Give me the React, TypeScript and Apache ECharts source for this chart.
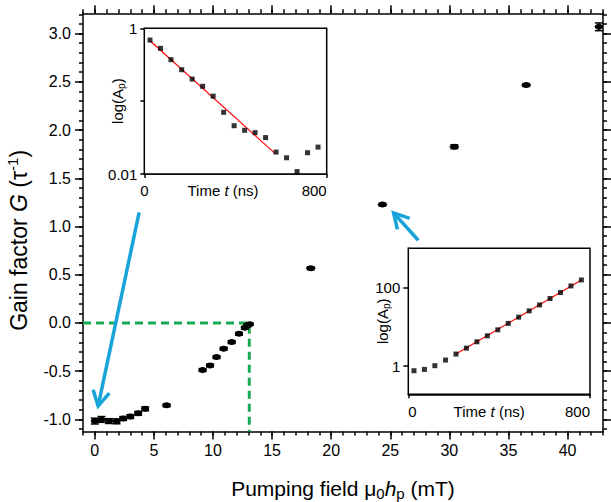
import React, { useEffect, useRef } from "react";
import * as echarts from "echarts";

// ---------- main panel data ----------
const fieldX = [0, 0.57, 1.2, 1.84, 2.4, 3.0, 3.67, 4.26, 6.07, 9.12, 9.75, 10.3, 10.9, 11.58, 12.2, 12.7, 12.9, 13.1, 18.27, 24.34, 30.42, 36.5, 42.65];
const gainG = [-1.017, -1.0, -1.017, -1.02, -0.99, -0.97, -0.937, -0.89, -0.854, -0.488, -0.44, -0.354, -0.267, -0.198, -0.112, -0.05, -0.026, -0.012, 0.567, 1.227, 1.827, 2.466, 3.07];
const fieldErr = [0.3, 0.3, 0.3, 0.3, 0.3, 0.3, 0.3, 0.3, 0.35, 0.35, 0.35, 0.35, 0.35, 0.35, 0.35, 0.35, 0.35, 0.35, 0.4, 0.4, 0.4, 0.4, 0.35];
const gainErr = [0.03, 0.03, 0.025, 0.025, 0.02, 0.02, 0.02, 0.02, 0.015, 0.015, 0.015, 0.015, 0.015, 0.015, 0.015, 0.015, 0.015, 0.015, 0.015, 0.015, 0.02, 0.015, 0.04];
const xMajorTicks = [0, 5, 10, 15, 20, 25, 30, 35, 40];
const yMajorTicks = [-1, -0.5, 0, 0.5, 1, 1.5, 2, 2.5, 3];
const thresholdField = 13.07;
// arrows: [fromX, fromY, toX, toY]
const arrowsData = [
  [3.75, 1.147, 0.28, -0.861],
  [27.37, 0.857, 25.28, 1.141],
];

// ---------- insets ----------
const timesNs = [25, 71, 117, 164, 210, 256, 302, 348, 394, 440, 486, 532, 578, 624, 670, 716, 762];
const decayAmp = [0.69, 0.531, 0.371, 0.27, 0.201, 0.16, 0.117, 0.0703, 0.046, 0.0398, 0.0369, 0.0316, 0.02, 0.0167, 0.0108, 0.0196, 0.0234];
const growAmp = [0.76, 0.82, 1.02, 1.42, 2.02, 2.86, 4.15, 5.89, 8.38, 12.2, 17.6, 25.4, 36.1, 52.5, 74.6, 110, 156];
const decayFit = [[25, 0.676], [573, 0.0192]];
const growFit = [[210, 2.02], [762, 156]];
const decayTicks = [-2, -1, 0];
const decayLabels = [-2, 0];
const growTicks = [0, 2];
const timeTicks = [0, 800];

const X_MIN = -1, X_MAX = 43, Y_MIN = -1.125, Y_MAX = 3.21;
const FONT = "'Liberation Sans', Arial, sans-serif";
const BLACK = "#000";
const GREEN = "#1aaa55";
const BLUE = "#18a4d8";

const xMinorTicks = Array.from({ length: 45 }, (_, i) => i - 1);
const yMinorTicks = Array.from({ length: 44 }, (_, i) => (i - 11) / 10);

const lineStyle = { color: BLACK, width: 1.5 };

function mainAxis(extra: any) {
  return {
    type: "value",
    gridIndex: 0,
    splitLine: { show: false },
    nameMoveOverlap: false,
    ...extra,
  };
}

const logLabel = (v: number) => {
  const p = Math.round(v);
  return String(Number(Math.pow(10, p).toPrecision(1)));
};

export default function App() {
  const ref = useRef<HTMLDivElement>(null);
  useEffect(() => {
    if (!ref.current) return;
    const chart = echarts.init(ref.current, undefined, { renderer: "svg" });

    const subRich = (size: number, pad: number) => ({ fontSize: size, fontFamily: FONT, color: BLACK, padding: [pad, 0, 0, 0] });
    const supRich = (size: number, pad: number) => ({ fontSize: size, fontFamily: FONT, color: BLACK, padding: [0, 0, pad, 0] });
    const hidden = { show: false, onZero: false };

    const xAxes: any[] = [
      mainAxis({
        min: X_MIN, max: X_MAX, position: "bottom",
        axisLine: { show: true, onZero: false, lineStyle },
        axisTick: { show: true, inside: false, length: 8, customValues: xMajorTicks, lineStyle },
        axisLabel: { show: true, customValues: xMajorTicks, fontSize: 16, color: BLACK, fontFamily: FONT, margin: 11 },
        name: "Pumping field μ{sub|0}{it|h}{sub|p} (mT)",
        nameLocation: "middle",
        nameGap: 44,
        nameTextStyle: {
          fontSize: 21, color: BLACK, fontFamily: FONT,
          rich: { sub: subRich(15, 10), it: { fontSize: 21, fontStyle: "italic", fontFamily: FONT, color: BLACK } },
        },
      }),
      mainAxis({
        min: X_MIN, max: X_MAX, position: "bottom",
        axisLine: hidden,
        axisTick: { show: true, inside: false, length: 4, customValues: xMinorTicks, lineStyle },
        axisLabel: { show: false },
      }),
      mainAxis({
        min: X_MIN, max: X_MAX, position: "top",
        axisLine: { show: true, onZero: false, lineStyle },
        axisTick: { show: true, inside: false, length: 8, customValues: xMajorTicks, lineStyle },
        axisLabel: { show: false },
      }),
      mainAxis({
        min: X_MIN, max: X_MAX, position: "top",
        axisLine: hidden,
        axisTick: { show: true, inside: false, length: 4, customValues: xMinorTicks, lineStyle },
        axisLabel: { show: false },
      }),
      {
        type: "value", gridIndex: 1, min: 0, max: 800, position: "bottom",
        splitLine: { show: false }, nameMoveOverlap: false,
        axisLine: { show: true, onZero: false, lineStyle },
        axisTick: { show: true, length: 4, customValues: timeTicks, lineStyle },
        axisLabel: { show: true, customValues: timeTicks, fontSize: 15, color: BLACK, fontFamily: FONT, margin: 9, alignMaxLabel: "right" },
        name: "Time {it|t} (ns)", nameLocation: "middle", nameGap: 9,
        nameTextStyle: { fontSize: 15, color: BLACK, fontFamily: FONT, padding: [0, 25, 0, 0], rich: { it: { fontSize: 15, fontStyle: "italic", fontFamily: FONT, color: BLACK } } },
      },
      {
        type: "value", gridIndex: 2, min: 0, max: 800, position: "bottom",
        splitLine: { show: false }, nameMoveOverlap: false,
        axisLine: { show: true, onZero: false, lineStyle },
        axisTick: { show: true, length: 4, customValues: timeTicks, lineStyle },
        axisLabel: { show: true, customValues: timeTicks, fontSize: 15, color: BLACK, fontFamily: FONT, margin: 10, alignMinLabel: "left", alignMaxLabel: "right" },
        name: "Time {it|t} (ns)", nameLocation: "middle", nameGap: 10,
        nameTextStyle: { fontSize: 15, color: BLACK, fontFamily: FONT, padding: [0, 20, 0, 0], rich: { it: { fontSize: 15, fontStyle: "italic", fontFamily: FONT, color: BLACK } } },
      },
    ];

    const yAxes: any[] = [
      mainAxis({
        min: Y_MIN, max: Y_MAX, position: "left",
        axisLine: { show: true, onZero: false, lineStyle },
        axisTick: { show: true, inside: false, length: 8, customValues: yMajorTicks, lineStyle },
        axisLabel: { show: true, customValues: yMajorTicks, fontSize: 16, color: BLACK, fontFamily: FONT, margin: 12, formatter: (v: number) => v.toFixed(1) },
        name: "Gain factor {it|G} (τ{sup|-1})",
        nameLocation: "middle",
        nameGap: 50,
        nameTextStyle: {
          fontSize: 23, color: BLACK, fontFamily: FONT, padding: [0, 36, 0, 0],
          rich: { sup: supRich(15, 13), it: { fontSize: 23, fontStyle: "italic", fontFamily: FONT, color: BLACK } },
        },
      }),
      mainAxis({
        min: Y_MIN, max: Y_MAX, position: "left",
        axisLine: hidden,
        axisTick: { show: true, inside: false, length: 4, customValues: yMinorTicks, lineStyle },
        axisLabel: { show: false },
      }),
      mainAxis({
        min: Y_MIN, max: Y_MAX, position: "right",
        axisLine: { show: true, onZero: false, lineStyle },
        axisTick: { show: true, inside: false, length: 8, customValues: yMajorTicks, lineStyle },
        axisLabel: { show: false },
      }),
      mainAxis({
        min: Y_MIN, max: Y_MAX, position: "right",
        axisLine: hidden,
        axisTick: { show: true, inside: false, length: 4, customValues: yMinorTicks, lineStyle },
        axisLabel: { show: false },
      }),
      {
        type: "value", gridIndex: 1, min: -2, max: 0, position: "left",
        splitLine: { show: false }, nameMoveOverlap: false,
        axisLine: { show: true, onZero: false, lineStyle },
        axisTick: { show: true, length: 4, customValues: decayTicks, lineStyle },
        axisLabel: { show: true, customValues: decayLabels, fontSize: 15, color: BLACK, fontFamily: FONT, margin: 7, formatter: logLabel },
        name: "log(A{sub|p})", nameLocation: "middle", nameGap: 18,
        nameTextStyle: { fontSize: 15, color: BLACK, fontFamily: FONT, rich: { sub: subRich(10, 7) } },
      },
      {
        type: "value", gridIndex: 2, min: -0.72, max: 3, position: "left",
        splitLine: { show: false }, nameMoveOverlap: false,
        axisLine: { show: true, onZero: false, lineStyle },
        axisTick: { show: true, length: 5, customValues: growTicks, lineStyle },
        axisLabel: { show: true, customValues: growTicks, fontSize: 15, color: BLACK, fontFamily: FONT, margin: 8, formatter: logLabel },
        name: "log(A{sub|p})", nameLocation: "middle", nameGap: 17,
        nameTextStyle: { fontSize: 15, color: BLACK, fontFamily: FONT, rich: { sub: subRich(10, 7) } },
      },
    ];

    const pointRows = fieldX.map((x, i) => [x, gainG[i], fieldErr[i], gainErr[i]]);

    const option: any = {
      animation: false,
      backgroundColor: "#fff",
      textStyle: { fontFamily: FONT },
      grid: [
        { left: 83, right: 8, top: 13.3, bottom: 70.5, outerBoundsMode: "none" },
        { left: 144.3, top: 28.3, width: 182.4, height: 145.7, show: true, backgroundColor: "#fff", borderColor: BLACK, borderWidth: 1.5, outerBoundsMode: "none", z: 5 },
        { left: 408.3, top: 248.3, width: 181.7, height: 146, show: true, backgroundColor: "#fff", borderColor: BLACK, borderWidth: 1.5, outerBoundsMode: "none", z: 5 },
      ],
      xAxis: xAxes,
      yAxis: yAxes,
      series: [
        {
          type: "line",
          xAxisIndex: 0, yAxisIndex: 0,
          data: [[X_MIN, 0], [thresholdField, 0], [thresholdField, Y_MIN]],
          showSymbol: false,
          symbol: "none",
          lineStyle: { color: GREEN, width: 3, type: [8, 5] },
          silent: true,
          z: 1,
        },
        {
          type: "custom",
          xAxisIndex: 0, yAxisIndex: 0,
          data: pointRows,
          encode: { x: 0, y: 1 },
          z: 3,
          renderItem: (params: any, api: any) => {
            const x = api.value(0), y = api.value(1), xe = api.value(2), ye = api.value(3);
            const c = api.coord([x, y]);
            const l = api.coord([x - xe, y]);
            const r = api.coord([x + xe, y]);
            const t = api.coord([x, y + ye]);
            const b = api.coord([x, y - ye]);
            const cap = 4;
            const st = { stroke: BLACK, lineWidth: 1.5 };
            return {
              type: "group",
              children: [
                { type: "line", shape: { x1: l[0], y1: c[1], x2: r[0], y2: c[1] }, style: st },
                { type: "line", shape: { x1: c[0], y1: t[1], x2: c[0], y2: b[1] }, style: st },
                { type: "line", shape: { x1: c[0] - cap, y1: t[1], x2: c[0] + cap, y2: t[1] }, style: st },
                { type: "line", shape: { x1: c[0] - cap, y1: b[1], x2: c[0] + cap, y2: b[1] }, style: st },
                { type: "ellipse", shape: { cx: c[0], cy: c[1], rx: 4, ry: 3 }, style: { fill: BLACK } },
              ],
            };
          },
        },
        {
          type: "custom",
          xAxisIndex: 0, yAxisIndex: 0,
          data: arrowsData,
          z: 4,
          renderItem: (params: any, api: any) => {
            const p1 = api.coord([api.value(0), api.value(1)]);
            const p2 = api.coord([api.value(2), api.value(3)]);
            const ang = Math.atan2(p1[1] - p2[1], p1[0] - p2[0]);
            const len = 17, spread = Math.PI / 6.2;
            const a1 = [p2[0] + len * Math.cos(ang + spread), p2[1] + len * Math.sin(ang + spread)];
            const a2 = [p2[0] + len * Math.cos(ang - spread), p2[1] + len * Math.sin(ang - spread)];
            const st = { stroke: BLUE, lineWidth: 3.5, lineCap: "butt", lineJoin: "miter", fill: null };
            return {
              type: "group",
              children: [
                { type: "line", shape: { x1: p1[0], y1: p1[1], x2: p2[0], y2: p2[1] }, style: st },
                { type: "polyline", shape: { points: [a1, p2, a2] }, style: st },
              ],
            };
          },
        },
        {
          type: "line", xAxisIndex: 4, yAxisIndex: 4,
          data: decayFit.map((d) => [d[0], Math.log10(d[1])]),
          showSymbol: false, symbol: "none",
          lineStyle: { color: "#ff0000", width: 1.2 }, z: 6,
        },
        {
          type: "scatter", xAxisIndex: 4, yAxisIndex: 4,
          data: timesNs.map((t, i) => [t, Math.log10(decayAmp[i])]),
          symbol: "rect", symbolSize: 5, itemStyle: { color: BLACK }, z: 7,
        },
        {
          type: "line", xAxisIndex: 5, yAxisIndex: 5,
          data: growFit.map((d) => [d[0], Math.log10(d[1])]),
          showSymbol: false, symbol: "none",
          lineStyle: { color: "#ff0000", width: 1.2 }, z: 6,
        },
        {
          type: "scatter", xAxisIndex: 5, yAxisIndex: 5,
          data: timesNs.map((t, i) => [t, Math.log10(growAmp[i])]),
          symbol: "rect", symbolSize: 5, itemStyle: { color: BLACK }, z: 7,
        },
      ],
    };
    chart.setOption(option);
    return () => chart.dispose();
  }, []);
  return <div ref={ref} style={{ position: "fixed", left: 0, top: 0, width: 611, height: 502 }} />;
}
